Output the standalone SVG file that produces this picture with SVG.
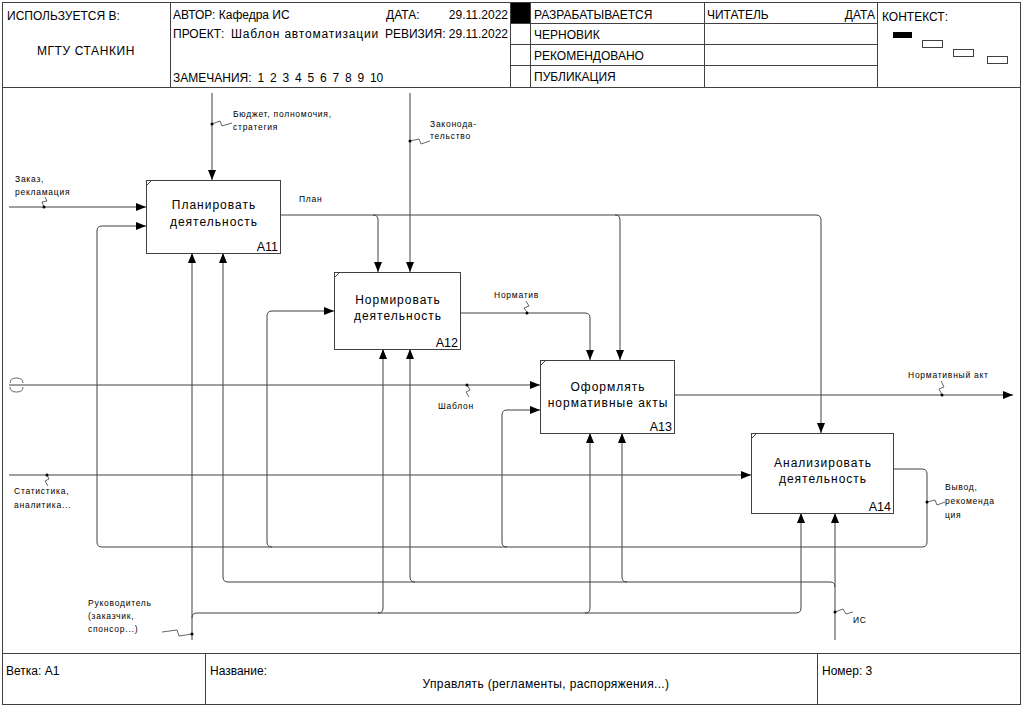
<svg xmlns="http://www.w3.org/2000/svg" width="1023" height="707" viewBox="0 0 1023 707">
<style>
.fr{fill:none;stroke:#404040;stroke-width:1}
.hd{font-family:"Liberation Sans",Arial,sans-serif;font-size:12px;fill:#000}
.bx{fill:#fff;stroke:#404040;stroke-width:1}
.bt{font-family:"Liberation Sans",Arial,sans-serif;font-size:12px;letter-spacing:1px;fill:#000;text-anchor:middle}
.id{font-family:"Liberation Sans",Arial,sans-serif;font-size:12.5px;fill:#000;text-anchor:end}
.ln{fill:none;stroke:#404040;stroke-width:1}
.ar{marker-end:url(#ah)}
.lb{font-family:"Liberation Sans",Arial,sans-serif;font-size:8.5px;letter-spacing:0.75px;fill:#000}
.sq{fill:none;stroke:#404040;stroke-width:0.8}
.dt{fill:#000}
</style>
<defs>
<marker id="ah" markerWidth="10" markerHeight="8" refX="10" refY="4" orient="auto" markerUnits="userSpaceOnUse">
<path d="M0,0 L10,4 L0,8 z" fill="#000"/>
</marker>
</defs>
<rect width="1023" height="707" fill="#fff"/>
<g id="frame">
<rect class="fr" x="2.5" y="2.5" width="1018" height="702"/>
<line class="fr" x1="2" y1="87.5" x2="1020" y2="87.5"/>
<line class="fr" x1="2" y1="653.5" x2="1020" y2="653.5"/>
<line class="fr" x1="170.5" y1="2" x2="170.5" y2="87"/>
<line class="fr" x1="510.5" y1="2" x2="510.5" y2="87"/>
<line class="fr" x1="530.5" y1="2" x2="530.5" y2="87"/>
<line class="fr" x1="704.5" y1="2" x2="704.5" y2="87"/>
<line class="fr" x1="877.5" y1="2" x2="877.5" y2="87"/>
<line class="fr" x1="510" y1="23.5" x2="877" y2="23.5"/>
<line class="fr" x1="510" y1="44.5" x2="877" y2="44.5"/>
<line class="fr" x1="510" y1="65.5" x2="877" y2="65.5"/>
<rect x="511" y="3" width="19" height="20" fill="#000"/>
<rect x="893" y="32" width="19" height="6" fill="#000"/>
<rect class="fr" x="922.5" y="40.5" width="20" height="7"/>
<rect class="fr" x="953.5" y="49.5" width="20" height="7"/>
<rect class="fr" x="987.5" y="56.5" width="20" height="7"/>
<line class="fr" x1="205.5" y1="653" x2="205.5" y2="705"/>
<line class="fr" x1="817.5" y1="653" x2="817.5" y2="705"/>
<text class="hd" x="7" y="20">ИСПОЛЬЗУЕТСЯ В:</text>
<text class="hd" x="86" y="55" text-anchor="middle" letter-spacing="0.6">МГТУ СТАНКИН</text>
<text class="hd" x="173" y="19">АВТОР: Кафедра ИС</text>
<text class="hd" x="386" y="19">ДАТА:</text>
<text class="hd" x="508" y="19" text-anchor="end">29.11.2022</text>
<text class="hd" x="173" y="38">ПРОЕКТ:</text>
<text class="hd" x="231" y="38" letter-spacing="0.8">Шаблон автоматизации</text>
<text class="hd" x="508" y="38" text-anchor="end">РЕВИЗИЯ: 29.11.2022</text>
<text class="hd" x="173" y="82" word-spacing="2.5">ЗАМЕЧАНИЯ: 1 2 3 4 5 6 7 8 9 10</text>
<text class="hd" x="534" y="19">РАЗРАБАТЫВАЕТСЯ</text>
<text class="hd" x="534" y="39">ЧЕРНОВИК</text>
<text class="hd" x="534" y="60">РЕКОМЕНДОВАНО</text>
<text class="hd" x="534" y="81">ПУБЛИКАЦИЯ</text>
<text class="hd" x="707" y="19">ЧИТАТЕЛЬ</text>
<text class="hd" x="875" y="19" text-anchor="end">ДАТА</text>
<text class="hd" x="882" y="21">КОНТЕКСТ:</text>
<text class="hd" x="6" y="675">Ветка: A1</text>
<text class="hd" x="210" y="675">Название:</text>
<text class="hd" x="546" y="688" text-anchor="middle" letter-spacing="0.35">Управлять (регламенты, распоряжения...)</text>
<text class="hd" x="822" y="675">Номер: 3</text>
</g>
<g id="connectors">
<path class="ln ar" d="M212,93 V180"/>
<path class="ln ar" d="M410,93 V272"/>
<path class="ln ar" d="M9,207 H146"/>
<path class="ln ar" d="M9,385 H540"/>
<path class="ln ar" d="M9,475 H751"/>
<path class="ln ar" d="M674,395 H1013"/>
<path class="ln ar" d="M280,215 H816 Q821,215 821,220 V433"/>
<path class="ln ar" d="M373,215 Q378,215 378,220 V272"/>
<path class="ln ar" d="M615,215 Q620,215 620,220 V360"/>
<path class="ln ar" d="M460,313 H585 Q590,313 590,318 V360"/>
<path class="ln ar" d="M893,469 H922 Q927,469 927,474 V542 Q927,547 922,547 H102 Q97,547 97,542 V231 Q97,226 102,226 H146"/>
<path class="ln ar" d="M272,547 Q267,547 267,542 V316 Q267,311 272,311 H334"/>
<path class="ln ar" d="M507,547 Q502,547 502,542 V415 Q502,410 507,410 H540"/>
<path class="ln ar" d="M192,640 V253"/>
<path class="ln ar" d="M192,618 Q192,613 197,613 H796 Q801,613 801,608 V513"/>
<path class="ln ar" d="M378,613 Q383,613 383,608 V349"/>
<path class="ln ar" d="M585,613 Q590,613 590,608 V433"/>
<path class="ln ar" d="M835,640 V513"/>
<path class="ln ar" d="M835,587 Q835,582 830,582 H228 Q223,582 223,577 V253"/>
<path class="ln ar" d="M415,582 Q410,582 410,577 V349"/>
<path class="ln ar" d="M627,582 Q622,582 622,577 V433"/>
<path class="sq" d="M10,383 Q10,378 16.5,378 Q23,378 23,383"/>
<path class="sq" d="M10,387 Q10,392 16.5,392 Q23,392 23,387"/>
<path class="sq" d="M212,124 L220,121 L222,126 L232,123"/>
<path class="sq" d="M410,141 L419,139 L421,144 L430,141"/>
<path class="sq" d="M44,207 L42,202 L47,201 L45,197"/>
<path class="sq" d="M527,312 L524,308 L529,306 L526,301"/>
<path class="sq" d="M467,385 L470,390 L466,392 L469,397"/>
<path class="sq" d="M942,395 L939,389 L944,387 L941,381"/>
<path class="sq" d="M927,502 L935,500 L937,505 L945,502"/>
<path class="sq" d="M47,475 L49,479 L45,481 L48,486"/>
<path class="sq" d="M835,612 L843,609 L846,614 L853,612"/>
<path class="sq" d="M162,632 L177,630 L179,636 L192,634"/>
<circle class="dt" cx="212" cy="124" r="1.5"/>
<circle class="dt" cx="410" cy="141" r="1.5"/>
<circle class="dt" cx="44" cy="207" r="1.5"/>
<circle class="dt" cx="527" cy="313" r="1.5"/>
<circle class="dt" cx="467" cy="385" r="1.5"/>
<circle class="dt" cx="942" cy="395" r="1.5"/>
<circle class="dt" cx="927" cy="502" r="1.5"/>
<circle class="dt" cx="47" cy="475" r="1.5"/>
<circle class="dt" cx="835" cy="612" r="1.5"/>
<circle class="dt" cx="192" cy="634" r="1.5"/>
<text class="lb" x="233" y="117">Бюджет, полномочия,</text>
<text class="lb" x="233" y="130">стратегия</text>
<text class="lb" x="430" y="127">Законода-</text>
<text class="lb" x="430" y="139">тельство</text>
<text class="lb" x="15" y="182">Заказ,</text>
<text class="lb" x="15" y="195">рекламация</text>
<text class="lb" x="299" y="202">План</text>
<text class="lb" x="494" y="298">Норматив</text>
<text class="lb" x="438" y="409">Шаблон</text>
<text class="lb" x="908" y="378">Нормативный акт</text>
<text class="lb" x="945" y="490">Вывод,</text>
<text class="lb" x="945" y="504">рекоменда</text>
<text class="lb" x="945" y="518">ция</text>
<text class="lb" x="14" y="494">Статистика,</text>
<text class="lb" x="14" y="508">аналитика...</text>
<text class="lb" x="88" y="606">Руководитель</text>
<text class="lb" x="88" y="619">(заказчик,</text>
<text class="lb" x="88" y="632">спонсор...)</text>
<text class="lb" x="853" y="623">ИС</text>
</g>
<g id="A11">
<rect class="bx" x="146.5" y="180.5" width="134" height="73"/>
<line class="fr" x1="146.5" y1="185.5" x2="151.5" y2="180.5"/>
<text class="bt" x="214" y="209">Планировать</text>
<text class="bt" x="214" y="226">деятельность</text>
<text class="id" x="278" y="251">A11</text>
</g>
<g id="A12">
<rect class="bx" x="334.5" y="272.5" width="126" height="77"/>
<line class="fr" x1="334.5" y1="277.5" x2="339.5" y2="272.5"/>
<text class="bt" x="398" y="304">Нормировать</text>
<text class="bt" x="398" y="320">деятельность</text>
<text class="id" x="458" y="347">A12</text>
</g>
<g id="A13">
<rect class="bx" x="540.5" y="360.5" width="134" height="73"/>
<line class="fr" x1="540.5" y1="365.5" x2="545.5" y2="360.5"/>
<text class="bt" x="608" y="391">Оформлять</text>
<text class="bt" x="608" y="407">нормативные акты</text>
<text class="id" x="672" y="431">A13</text>
</g>
<g id="A14">
<rect class="bx" x="751.5" y="433.5" width="142" height="80"/>
<line class="fr" x1="751.5" y1="438.5" x2="756.5" y2="433.5"/>
<text class="bt" x="823" y="467">Анализировать</text>
<text class="bt" x="823" y="483">деятельность</text>
<text class="id" x="891" y="511">A14</text>
</g>
</svg>
